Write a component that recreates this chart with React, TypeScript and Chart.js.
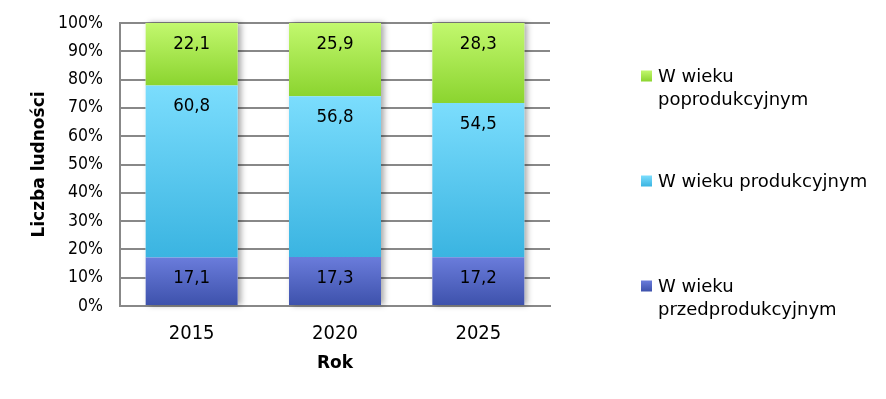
import React, { useEffect, useRef } from "react";
import { Chart, registerables } from "chart.js";

Chart.register(...registerables);

const categories = ["2015", "2020", "2025"];
const seriesNames = ["W wieku przedprodukcyjnym", "W wieku produkcyjnym", "W wieku poprodukcyjnym"];
const przedprodukcyjny = [17.1, 17.3, 17.2];
const produkcyjny = [60.8, 56.8, 54.5];
const poprodukcyjny = [22.1, 25.9, 28.3];
const yTickValues = [0, 10, 20, 30, 40, 50, 60, 70, 80, 90, 100];
const xTitle = "Rok";
const yTitle = "Liczba ludności";

const FONT = "'DejaVu Sans', sans-serif";
const FONT_C = "'DejaVu Sans Condensed', 'DejaVu Sans', sans-serif";
const gradientStops: string[][] = [
  ["#6a7cdb", "#3d51ab"],
  ["#7bddfd", "#3ab4e1"],
  ["#c2f86e", "#8bd42f"],
];
const GRID = "#888888";

function makeBg(stops: string[]) {
  return (ctx: any) => {
    const chart = ctx.chart;
    const y = chart.scales && chart.scales.y;
    if (!y || ctx.type !== "data") return stops[0];
    const i = ctx.dataIndex;
    const d = ctx.datasetIndex;
    let base = 0;
    for (let k = 0; k < d; k++) base += chart.data.datasets[k].data[i] as number;
    const top = base + (chart.data.datasets[d].data[i] as number);
    const y0 = y.getPixelForValue(top);
    const y1 = y.getPixelForValue(base);
    if (!isFinite(y0) || !isFinite(y1)) return stops[0];
    const g = chart.ctx.createLinearGradient(0, y0, 0, y1);
    g.addColorStop(0, stops[0]);
    g.addColorStop(1, stops[1]);
    return g;
  };
}

const shadowPlugin = {
  id: "barShadow",
  beforeDatasetsDraw(chart: any) {
    const ctx = chart.ctx;
    const n = chart.data.datasets.length;
    const first = chart.getDatasetMeta(0).data;
    const last = chart.getDatasetMeta(n - 1).data;
    ctx.save();
    ctx.shadowColor = "rgba(0,0,0,0.35)";
    ctx.shadowBlur = 6;
    ctx.shadowOffsetX = 3;
    ctx.shadowOffsetY = 0;
    ctx.fillStyle = "#ffffff";
    first.forEach((el: any, i: number) => {
      const top = last[i].y;
      const bottom = el.base;
      const w = el.width;
      ctx.fillRect(el.x - w / 2, top, w, bottom - top);
    });
    ctx.restore();
  },
};

const labelPlugin = {
  id: "segLabels",
  afterDatasetsDraw(chart: any) {
    const ctx = chart.ctx;
    ctx.save();
    ctx.font = `18.5px ${FONT_C}`;
    ctx.fillStyle = "#000";
    ctx.textAlign = "center";
    ctx.textBaseline = "middle";
    chart.data.datasets.forEach((ds: any, d: number) => {
      chart.getDatasetMeta(d).data.forEach((el: any, i: number) => {
        const v = ds.data[i] as number;
        ctx.fillText(v.toFixed(1).replace(".", ","), el.x, el.y + 21);
      });
    });
    ctx.restore();
  },
};

function wrap(ctx: CanvasRenderingContext2D, text: string, maxW: number) {
  const words = text.split(" ");
  const lines: string[] = [];
  let cur = "";
  words.forEach((w) => {
    const t = cur ? cur + " " + w : w;
    if (ctx.measureText(t).width > maxW && cur) {
      lines.push(cur);
      cur = w;
    } else cur = t;
  });
  if (cur) lines.push(cur);
  return lines;
}

const legendPlugin = {
  id: "sideLegend",
  afterDraw(chart: any) {
    const ctx = chart.ctx;
    ctx.save();
    ctx.font = `18px ${FONT}`;
    ctx.textBaseline = "middle";
    ctx.textAlign = "left";
    const n = chart.data.datasets.length;
    const boxX = 641;
    const textX = 658;
    const firstY = 76;
    const step = 105;
    const lineH = 23;
    for (let r = 0; r < n; r++) {
      const d = n - 1 - r;
      const ds = chart.data.datasets[d];
      const cy = firstY + r * step;
      const g = ctx.createLinearGradient(0, cy - 5.5, 0, cy + 5.5);
      g.addColorStop(0, gradientStops[d][0]);
      g.addColorStop(1, gradientStops[d][1]);
      ctx.fillStyle = g;
      ctx.fillRect(boxX, cy - 5.5, 11, 11);
      ctx.fillStyle = "#000";
      const lines = wrap(ctx, ds.label, 220);
      lines.forEach((ln, j) => ctx.fillText(ln, textX, cy + 1 + j * lineH));
    }
    ctx.restore();
  },
};

export default function App() {
  const ref = useRef<HTMLCanvasElement>(null);
  useEffect(() => {
    if (!ref.current) return;
    const series = [przedprodukcyjny, produkcyjny, poprodukcyjny];
    const chart = new Chart(ref.current, {
      type: "bar",
      data: {
        labels: categories,
        datasets: series.map((s, i) => ({
          label: seriesNames[i],
          data: s,
          backgroundColor: makeBg(gradientStops[i]),
          borderWidth: 0,
          barPercentage: 0.642,
          categoryPercentage: 1,
        })),
      },
      options: {
        responsive: false,
        animation: false,
        devicePixelRatio: 1,
        layout: { padding: { left: 0, top: 23, right: 336, bottom: 23 } },
        plugins: { legend: { display: false }, tooltip: { enabled: false } },
        scales: {
          x: {
            stacked: true,
            grid: { display: false, drawTicks: false },
            border: { display: true, color: GRID, width: 2 },
            ticks: { color: "#000", font: { family: FONT_C, size: 20 }, padding: 16 },
            title: {
              display: true,
              text: xTitle,
              color: "#000",
              font: { family: FONT, size: 17, weight: "bold" },
              padding: { top: 2, bottom: 2 },
            },
            afterFit: (s: any) => {
              s.height = 70;
              s.paddingLeft = 0;
              s.paddingRight = 0;
            },
          },
          y: {
            stacked: true,
            min: 0,
            max: 100,
            afterBuildTicks: (s: any) => {
              s.ticks = yTickValues.map((v) => ({ value: v }));
            },
            grid: { color: GRID, lineWidth: 2, drawTicks: false },
            border: { display: true, color: GRID, width: 2 },
            ticks: {
              color: "#000",
              font: { family: FONT_C, size: 17.5 },
              padding: 17,
              callback: (v: any) => `${v}%`,
            },
            title: {
              display: true,
              text: yTitle,
              color: "#000",
              font: { family: FONT, size: 17, weight: "bold" },
              padding: { top: 29, bottom: 0 },
            },
            afterFit: (s: any) => {
              s.width = 120;
              s.paddingTop = 0;
              s.paddingBottom = 0;
            },
          },
        },
      },
      plugins: [shadowPlugin, labelPlugin, legendPlugin],
    });
    return () => chart.destroy();
  }, []);
  return (
    <div style={{ position: "fixed", left: 0, top: 0, width: 886, height: 399, background: "#fff" }}>
      <canvas ref={ref} width={886} height={399} style={{ display: "block" }} />
    </div>
  );
}
